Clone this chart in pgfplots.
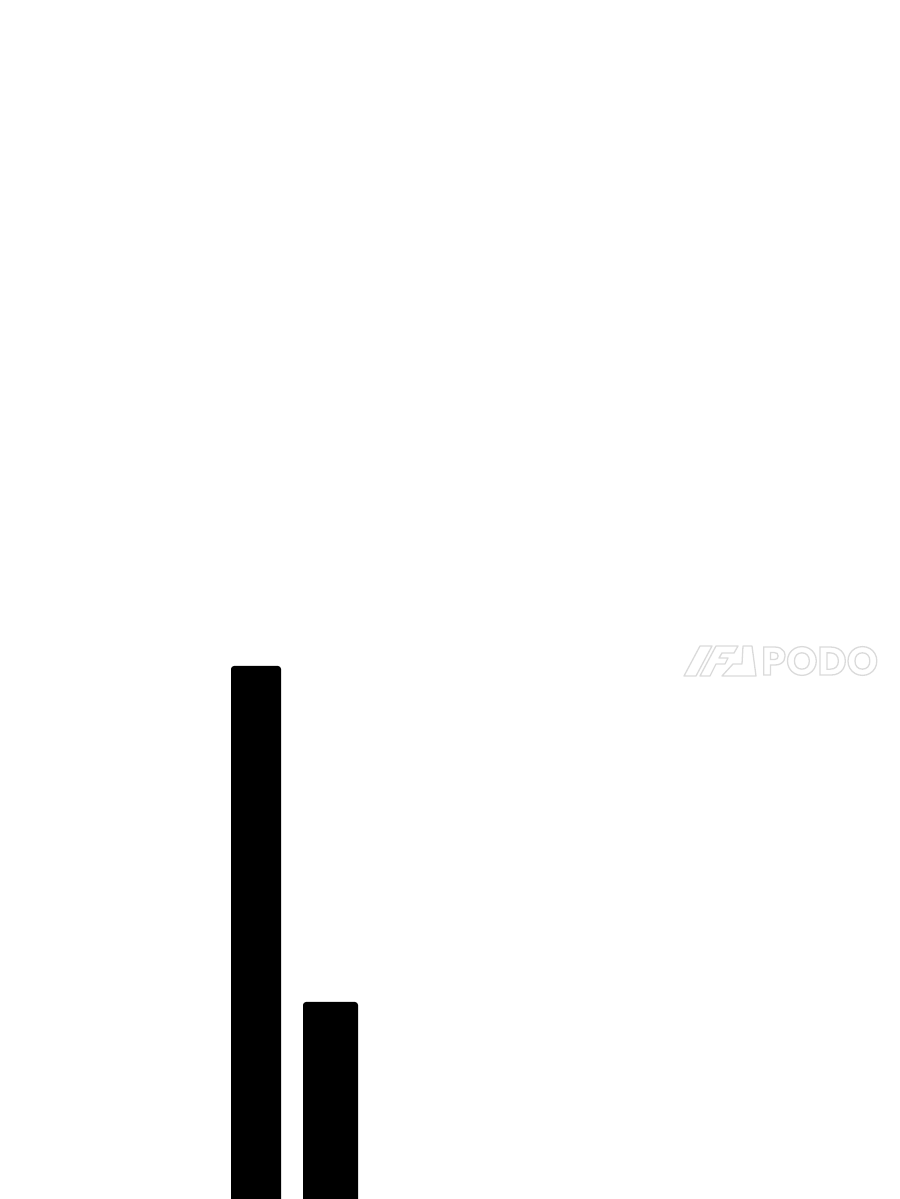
\documentclass[border=0pt]{standalone}
\usepackage{fontspec}
\setmainfont{Poppins}
\usepackage{pgfplots}
\pgfplotsset{compat=1.18}
\definecolor{wm}{HTML}{DADADA}

\begin{document}
\begin{tikzpicture}
\begin{axis}[
  scale only axis,
  width=900bp, height=1219bp,
  hide axis,
  xmin=0, xmax=900,
  ymin=0, ymax=1219,
  ybar, bar shift=0pt,
  clip=true
]
% bars (x = centre in pixels, y = height in pixels + 20 hidden below the page)
\addplot[fill=black, draw=none, bar width=50, rounded corners=3bp]
  coordinates {(256,553)};
\addplot[fill=black, draw=none, bar width=55, rounded corners=3bp]
  coordinates {(330.5,217)};

% faint watermark
\begin{scope}[draw=wm, line width=1.3bp, line join=round]
  \draw (axis cs:684,543) -- (axis cs:700,573) -- (axis cs:712,573) -- (axis cs:696,543) -- cycle;
  \draw (axis cs:700,543) -- (axis cs:716,573) -- (axis cs:738,573) -- (axis cs:734,566) -- (axis cs:722,566) -- (axis cs:719,561) -- (axis cs:728,561) -- (axis cs:725,555) -- (axis cs:716,555) -- (axis cs:710,543) -- cycle;
  \draw (axis cs:722,543) -- (axis cs:733,555) -- (axis cs:742,555) -- (axis cs:743,573) -- (axis cs:752,573) -- (axis cs:756,543) -- cycle;
\end{scope}
\node[anchor=west, inner sep=0pt] at (axis cs:761,558)
  {\fontsize{40bp}{40bp}\selectfont\bfseries
   \special{pdf:literal direct 1 Tr 1.3 w 0.855 0.855 0.855 RG}\textcolor{wm}{PODO}\special{pdf:literal direct 0 Tr}};
\end{axis}
\pgfresetboundingbox
\path (0,20bp) rectangle (900bp,1219bp);
\end{tikzpicture}
\end{document}
